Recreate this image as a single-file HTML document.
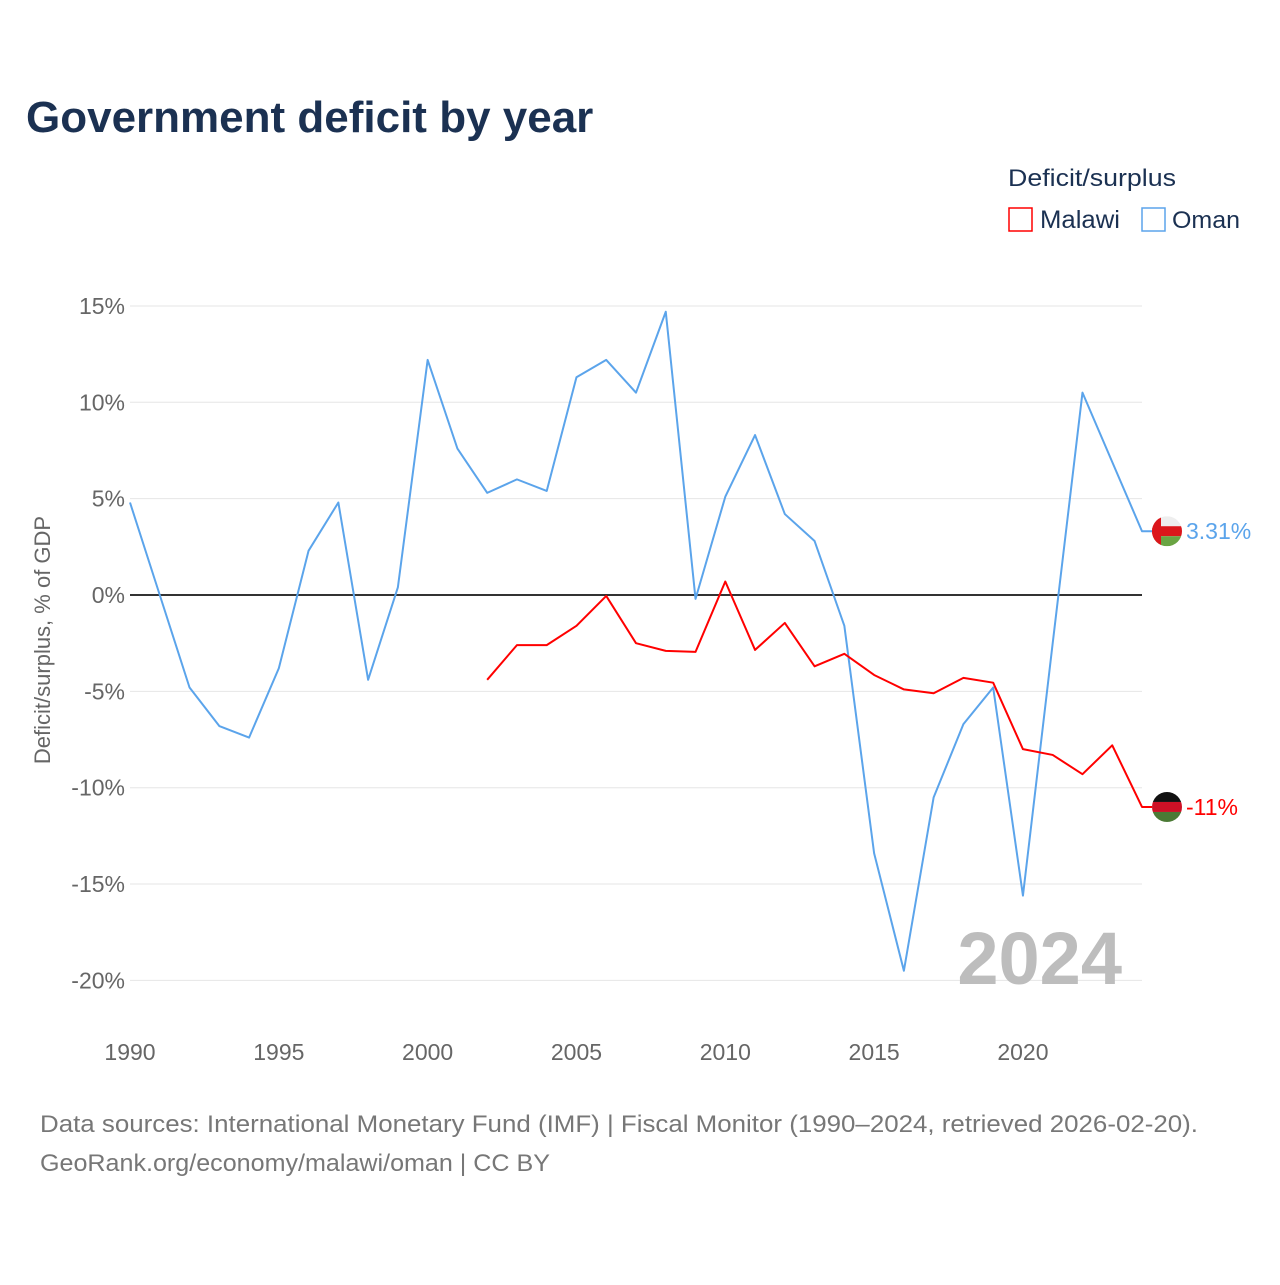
<!DOCTYPE html>
<html><head><meta charset="utf-8"><style>
body{margin:0;background:#fff;font-family:"Liberation Sans",sans-serif;}
svg text{font-family:"Liberation Sans",sans-serif;}
</style></head><body>
<svg id="chart" width="1280" height="1280" xmlns="http://www.w3.org/2000/svg">
<text x="26" y="132" font-size="44" font-weight="bold" fill="#1b3152">Government deficit by year</text>
<text x="1008" y="186" font-size="24" fill="#1b3152" textLength="168" lengthAdjust="spacingAndGlyphs">Deficit/surplus</text>
<g><rect x="1009" y="208" width="23" height="23" fill="none" stroke="#ff0000" stroke-width="1.5"/><text x="1040" y="228" font-size="25" fill="#1b3152" textLength="80" lengthAdjust="spacingAndGlyphs">Malawi</text></g>
<g><rect x="1142" y="208" width="23" height="23" fill="none" stroke="#5ba4eb" stroke-width="1.5"/><text x="1172" y="228" font-size="24" fill="#1b3152" textLength="68" lengthAdjust="spacingAndGlyphs">Oman</text></g>
<g id="grid"></g>
<g id="marks"></g>
<text x="1122" y="984" font-size="74" font-weight="bold" fill="#bdbdbd" text-anchor="end">2024</text>
<text transform="translate(50,640) rotate(-90)" font-size="22" fill="#666" text-anchor="middle">Deficit/surplus, % of GDP</text>
<text x="40" y="1132" font-size="24" fill="#777" textLength="1158" lengthAdjust="spacingAndGlyphs">Data sources: International Monetary Fund (IMF) | Fiscal Monitor (1990–2024, retrieved 2026-02-20).</text>
<text x="40" y="1171" font-size="24" fill="#777" textLength="510" lengthAdjust="spacingAndGlyphs">GeoRank.org/economy/malawi/oman | CC BY</text>
</svg>
<script>
const omanYears=[1990,1991,1992,1993,1994,1995,1996,1997,1998,1999,2000,2001,2002,2003,2004,2005,2006,2007,2008,2009,2010,2011,2012,2013,2014,2015,2016,2017,2018,2019,2020,2021,2022,2023,2024];
const omanValues=[4.8,0,-4.8,-6.8,-7.4,-3.8,2.3,4.8,-4.4,0.4,12.2,7.6,5.3,6.0,5.4,11.3,12.2,10.5,14.7,-0.2,5.1,8.3,4.2,2.8,-1.6,-13.4,-19.5,-10.5,-6.7,-4.8,-15.6,-2.5,10.5,6.9,3.31];
const malawiYears=[2002,2003,2004,2005,2006,2007,2008,2009,2010,2011,2012,2013,2014,2015,2016,2017,2018,2019,2020,2021,2022,2023,2024];
const malawiValues=[-4.4,-2.6,-2.6,-1.6,-0.05,-2.5,-2.9,-2.95,0.7,-2.85,-1.45,-3.7,-3.05,-4.15,-4.9,-5.1,-4.3,-4.55,-8.0,-8.3,-9.3,-7.8,-11];
const yTicks=[15,10,5,0,-5,-10,-15,-20];
const xTicks=[1990,1995,2000,2005,2010,2015,2020];
const NS="http://www.w3.org/2000/svg";
const xs=y=>130+(y-1990)*(1142-130)/34;
const ys=v=>595-v*19.27;
const grid=document.getElementById('grid'),marks=document.getElementById('marks');
function mk(tag,attrs,parent){const e=document.createElementNS(NS,tag);for(const k in attrs)e.setAttribute(k,attrs[k]);parent.appendChild(e);return e;}
yTicks.forEach(t=>{
  const l=mk('line',{x1:130,x2:1142,y1:ys(t),y2:ys(t),stroke:t===0?'#333':'#e6e6e6','stroke-width':t===0?2:1},grid);
  
  
  const tx=mk('text',{x:125,y:ys(t)+8,'font-size':23,fill:'#666','text-anchor':'end'},grid);
  tx.textContent=t+'%';
  
  
});
xTicks.forEach(t=>{
  const tx=mk('text',{x:xs(t),y:1060,'font-size':23,fill:'#666','text-anchor':'middle'},grid);
  tx.textContent=t;
  
  
});
function series(years,vals,color,name){
  let d=years.map((y,i)=>(i?'L':'M')+xs(y)+','+ys(vals[i])).join(' ');
  const lv=vals[vals.length-1];
  d+=' L'+(xs(years[years.length-1])+10)+','+ys(lv);
  const p=mk('path',{d:d,fill:'none',stroke:color,'stroke-width':2,'stroke-linejoin':'round'},marks);
  
  
}
series(omanYears,omanValues,'#5ba4eb','oman');
series(malawiYears,malawiValues,'#ff0000','malawi');
function flag(v,name,stripes,label,color){
  const cy=ys(v),cx=1167;
  const g=mk('g',{},marks);
  
  
  const cid='c'+name;
  const cp=mk('clipPath',{id:cid},g);mk('circle',{cx:cx,cy:cy,r:15},cp);
  const gg=mk('g',{'clip-path':'url(#'+cid+')'},g);
  stripes.forEach((c,i)=>mk('rect',{x:cx-15,y:cy-15+i*10,width:30,height:10,fill:c},gg));
  if(name==='oman'){mk('rect',{x:cx-15,y:cy-15,width:9,height:30,fill:'#db161b'},gg);}
  const t=mk('text',{x:1186,y:cy+8,'font-size':23,fill:color},marks);
  t.textContent=label;
  
  
}
flag(omanValues[omanValues.length-1],'oman',['#eeeeee','#db161b','#6aa443'],omanValues[omanValues.length-1]+'%','#5ba4eb');
flag(malawiValues[malawiValues.length-1],'malawi',['#111111','#ce1126','#4b7a35'],malawiValues[malawiValues.length-1]+'%','#ff0000');
</script>
</body></html>
